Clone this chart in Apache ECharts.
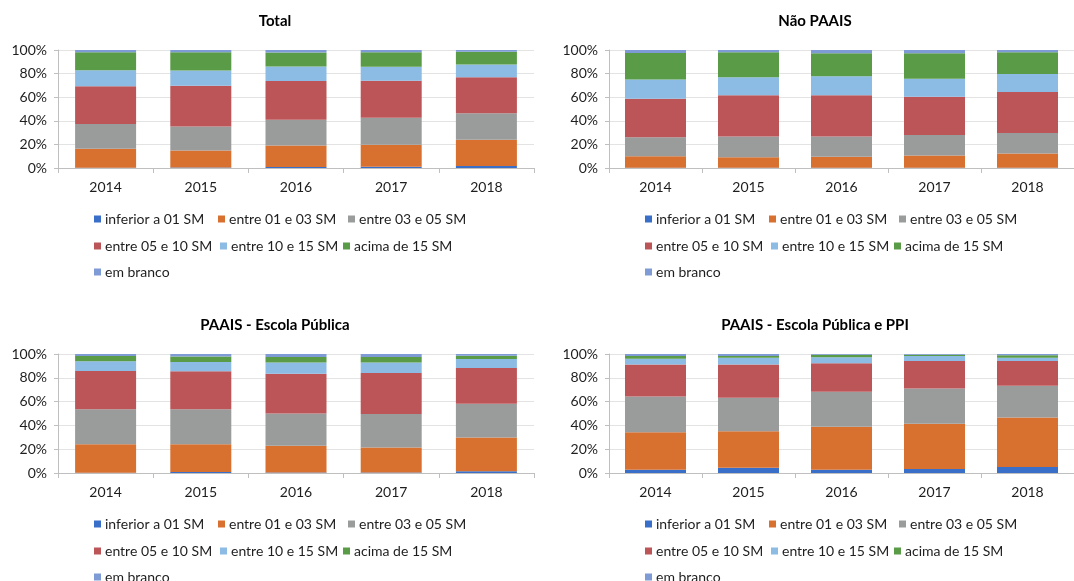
<!DOCTYPE html>
<html>
<head>
<meta charset="utf-8">
<script src="https://cdn.jsdelivr.net/npm/echarts@6/dist/echarts.min.js"></script>
<style>html,body{margin:0;padding:0;background:#fff}#c{width:1074px;height:581px}</style>
</head>
<body>
<div id="c"></div>
<script>
const years = ['2014','2015','2016','2017','2018'];
const seriesNames = ['inferior a 01 SM','entre 01 e 03 SM','entre 03 e 05 SM','entre 05 e 10 SM','entre 10 e 15 SM','acima de 15 SM','em branco'];
const yTicks = [0,20,40,60,80,100];
const panelTitles = ['Total','Não PAAIS','PAAIS - Escola Pública','PAAIS - Escola Pública e PPI'];

// values in % per series, order of years
const total = [
  [0.3, 0.5, 0.8, 1.0, 1.7],
  [16.0, 14.3, 18.2, 18.6, 22.3],
  [21.0, 20.4, 21.8, 22.9, 22.4],
  [32.0, 34.6, 32.9, 31.5, 30.6],
  [13.5, 12.9, 12.3, 11.8, 10.7],
  [15.2, 15.3, 11.8, 12.2, 10.9],
  [2.0, 2.0, 2.2, 2.0, 1.4]
];
const naoPaais = [
  [0.2, 0.2, 0.2, 0.2, 0.3],
  [9.8, 9.0, 9.3, 10.4, 12.0],
  [16.0, 17.6, 17.3, 17.3, 17.3],
  [32.7, 34.9, 34.9, 32.4, 34.9],
  [16.4, 15.3, 16.0, 15.4, 15.1],
  [22.4, 21.0, 19.5, 21.5, 18.4],
  [2.5, 2.0, 2.8, 2.8, 2.0]
];
const paaisEP = [
  [0.3, 0.8, 0.5, 0.5, 1.5],
  [23.9, 23.4, 22.3, 20.9, 28.3],
  [29.3, 29.3, 27.3, 28.2, 28.4],
  [32.3, 32.0, 33.2, 34.5, 30.1],
  [8.1, 7.8, 9.5, 8.7, 7.5],
  [4.4, 4.5, 4.7, 4.7, 2.8],
  [1.7, 2.2, 2.5, 2.5, 1.4]
];
const paaisEPPPI = [
  [2.8, 4.4, 2.8, 3.3, 5.0],
  [31.4, 30.6, 36.1, 38.1, 41.7],
  [30.0, 28.3, 29.4, 29.7, 26.6],
  [26.9, 27.8, 23.9, 23.1, 20.9],
  [5.0, 5.8, 5.0, 4.1, 2.7],
  [2.2, 1.4, 2.2, 1.1, 2.0],
  [1.7, 1.7, 0.6, 0.6, 1.1]
];
const panelData = [total, naoPaais, paaisEP, paaisEPPPI];

const colors = ['#3A6FC9','#D8712F','#9A9C9C','#BC5557','#8CBBE3','#5A9B47','#7E9BD6'];
const FONT = 'Lato';
const TXT = '#1E1E1E';

// layout
const panels = [
  {gl: 58, gt: 50, gh: 118, title: [275, 21], lx: 0, ly: [219, 246, 272]},
  {gl: 609, gt: 50, gh: 118, title: [815, 21], lx: 551, ly: [219, 246, 272]},
  {gl: 58, gt: 354, gh: 119, title: [275, 325], lx: 0, ly: [524, 551, 577]},
  {gl: 609, gt: 354, gh: 119, title: [815, 325], lx: 551, ly: [524, 551, 577]}
];
const legendPos = [[94,0],[218,0],[348,0],[94,1],[220,1],[343,1],[94,2]];

const option = {
  animation: false,
  backgroundColor: '#fff',
  textStyle: {fontFamily: FONT},
  title: [], grid: [], xAxis: [], yAxis: [], series: [], legend: []
};

panels.forEach((p, i) => {
  option.title.push({
    text: panelTitles[i], left: p.title[0], top: p.title[1], textAlign: 'center', textVerticalAlign: 'middle',
    padding: 0,
    textStyle: {fontFamily: FONT, fontSize: 15, fontWeight: 'bold', color: '#000'}
  });
  option.grid.push({left: p.gl, top: p.gt, width: 476, height: p.gh, containLabel: false});
  option.xAxis.push({
    type: 'category', gridIndex: i, data: years,
    axisLine: {lineStyle: {color: '#BFBFBF', width: 1}},
    axisTick: {show: true, alignWithLabel: false, length: 5, lineStyle: {color: '#BFBFBF'}},
    axisLabel: {fontFamily: FONT, fontSize: 14, color: TXT, margin: 12},
    splitLine: {show: false}
  });
  option.yAxis.push({
    type: 'value', gridIndex: i, min: 0, max: 100, interval: 20,
    axisLine: {show: true, lineStyle: {color: '#BFBFBF'}},
    axisTick: {show: true, length: 4, lineStyle: {color: '#BFBFBF'}},
    axisLabel: {fontFamily: FONT, fontSize: 14, color: TXT, margin: 11, formatter: '{value}%'},
    splitLine: {show: true, lineStyle: {color: '#E3E3E3', width: 1}}
  });
  seriesNames.forEach((name, s) => {
    option.series.push({
      type: 'bar', name: name, xAxisIndex: i, yAxisIndex: i, stack: 'p' + i,
      data: panelData[i][s], barWidth: 61,
      itemStyle: {color: colors[s]}
    });
  });
  seriesNames.forEach((name, s) => {
    const lp = legendPos[s];
    option.legend.push({
      data: [name], left: lp[0] + p.lx, top: p.ly[lp[1]] - 8, padding: 0,
      icon: 'rect', itemWidth: 7, itemHeight: 7, itemGap: 0,
      selectedMode: false,
      textStyle: {fontFamily: FONT, fontSize: 14, color: TXT, lineHeight: 16, padding: [0, 0, 0, -1]}
    });
  });
});

const chart = echarts.init(document.getElementById('c'), null, {renderer: 'canvas'});
chart.setOption(option);
</script>
</body>
</html>
